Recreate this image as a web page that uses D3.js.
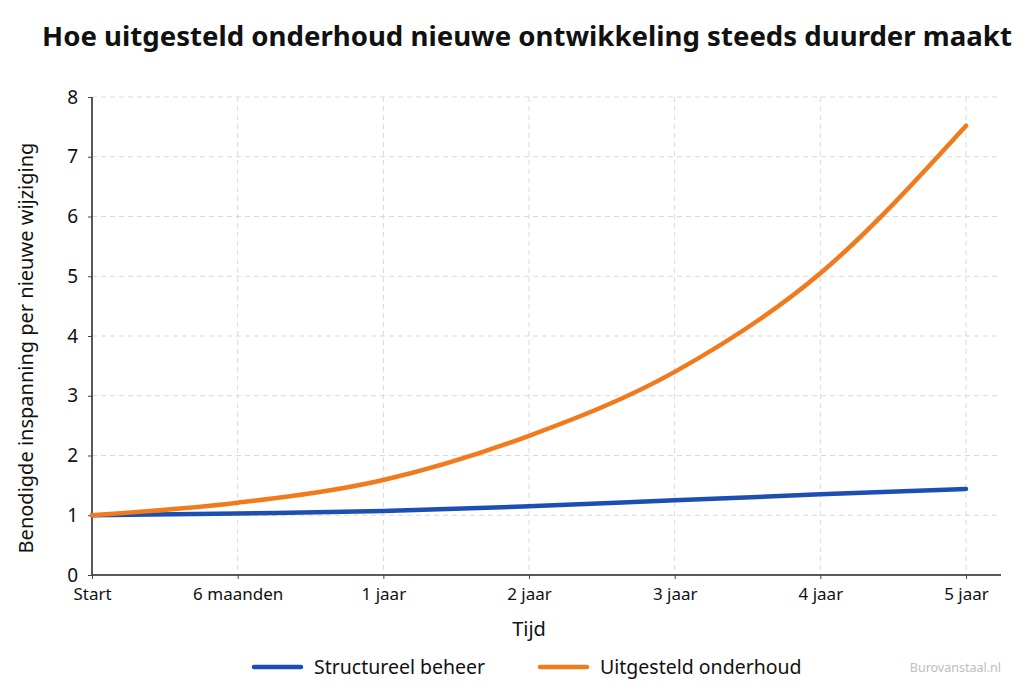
<!DOCTYPE html>
<html>
<head>
<meta charset="utf-8">
<script src="https://cdn.jsdelivr.net/npm/d3@7"></script>
<style>
  body { margin: 0; background: #fff; }
  text { font-family: "Noto Sans", "Open Sans", sans-serif; fill: #111; }
</style>
</head>
<body>
<svg id="chart" width="1024" height="697"></svg>
<script>
const periods = ['Start', '6 maanden', '1 jaar', '2 jaar', '3 jaar', '4 jaar', '5 jaar'];
const structureel = [1.0, 1.03, 1.07, 1.15, 1.25, 1.35, 1.44];
const uitgesteld = [1.0, 1.21, 1.59, 2.33, 3.40, 5.05, 7.52];
const yTicks = [0, 1, 2, 3, 4, 5, 6, 7, 8];
const seriesNames = ['Structureel beheer', 'Uitgesteld onderhoud'];

const svg = d3.select('#chart');
const margin = { top: 97, right: 23, bottom: 122, left: 92 };
const width = +svg.attr('width');
const height = +svg.attr('height');
const innerWidth = width - margin.left - margin.right;
const innerHeight = height - margin.top - margin.bottom;
const color = d3.scaleOrdinal().domain(seriesNames).range(['#1c4fb4', '#f07a1c']);

// index based x position: last category sits a bit in from the right edge
const xScale = d3.scaleLinear().domain([0, 6.24]).range([0, innerWidth]);
const yScale = d3.scaleLinear().domain([0, 8]).range([innerHeight, 0]);

const g = svg.append('g').attr('transform', `translate(${margin.left}, ${margin.top})`);

// grid
g.append('g').selectAll('line').data(yTicks.slice(1)).join('line')
    .attr('x1', 0).attr('x2', innerWidth)
    .attr('y1', d => yScale(d)).attr('y2', d => yScale(d))
    .attr('stroke', '#d9d9d9').attr('stroke-dasharray', '5,4');
g.append('g').selectAll('line').data(periods.slice(1)).join('line')
    .attr('x1', (d, i) => xScale(i + 1)).attr('x2', (d, i) => xScale(i + 1))
    .attr('y1', 0).attr('y2', innerHeight)
    .attr('stroke', '#d9d9d9').attr('stroke-dasharray', '5,4');

// axes
const xAxis = d3.axisBottom(xScale).tickValues(d3.range(periods.length))
    .tickFormat(i => periods[i]).tickSize(4).tickPadding(9);
const yAxis = d3.axisLeft(yScale).tickValues(yTicks).tickSize(4).tickPadding(10);
const xAxisGroup = g.append('g').attr('transform', `translate(0, ${innerHeight})`).call(xAxis);
const yAxisGroup = g.append('g').call(yAxis);
xAxisGroup.select('.domain').attr('d', `M0,0H${innerWidth}`);
yAxisGroup.select('.domain').attr('d', `M0,0V${innerHeight}`);
[xAxisGroup, yAxisGroup].forEach(a => {
    a.attr('font-family', '"Noto Sans", sans-serif').attr('font-size', 17);
    a.select('.domain').attr('stroke', '#222').attr('stroke-width', 1.5);
    a.selectAll('.tick line').attr('stroke', '#444');
    a.selectAll('.tick text').attr('fill', '#111');
});
yAxisGroup.attr('font-size', 19);

// lines
const line = d3.line()
    .x((d, i) => xScale(i))
    .y(d => yScale(d))
    .curve(d3.curveMonotoneX);
[structureel, uitgesteld].forEach((vals, k) => {
    g.append('path').datum(vals)
        .attr('fill', 'none')
        .attr('stroke', color(seriesNames[k]))
        .attr('stroke-width', 4.5)
        .attr('stroke-linecap', 'round')
        .attr('d', line);
});

// title and axis labels
svg.append('text').attr('x', 527).attr('y', 46)
    .attr('text-anchor', 'middle').attr('font-size', '27.6px').attr('font-weight', 'bold')
    .text('Hoe uitgesteld onderhoud nieuwe ontwikkeling steeds duurder maakt');
svg.append('text').attr('x', margin.left + xScale(3)).attr('y', 636)
    .attr('text-anchor', 'middle').attr('font-size', '20px').text('Tijd');
svg.append('text').attr('transform', `translate(33, ${margin.top + innerHeight / 2 + 12}) rotate(-90)`)
    .attr('text-anchor', 'middle').attr('font-size', '20px')
    .text('Benodigde inspanning per nieuwe wijziging');

// legend
const legend = svg.selectAll('.legend').data(seriesNames).join('g')
    .attr('class', 'legend')
    .attr('transform', (d, i) => `translate(${[254, 540][i]}, 667)`);
legend.append('line')
    .attr('x1', 0).attr('x2', 47).attr('y1', 0).attr('y2', 0)
    .attr('stroke', d => color(d)).attr('stroke-width', 4.5).attr('stroke-linecap', 'round');
legend.append('text')
    .attr('x', 60).attr('y', 0).attr('dy', '0.35em')
    .attr('font-size', '19.5px')
    .text(d => d);

svg.append('text').attr('x', 1001).attr('y', 672)
    .attr('text-anchor', 'end').attr('font-size', '12.5px')
    .attr('font-family', '"Liberation Sans", Arial, sans-serif')
    .style('fill', '#bdbdbd').text('Burovanstaal.nl');
</script>
</body>
</html>
